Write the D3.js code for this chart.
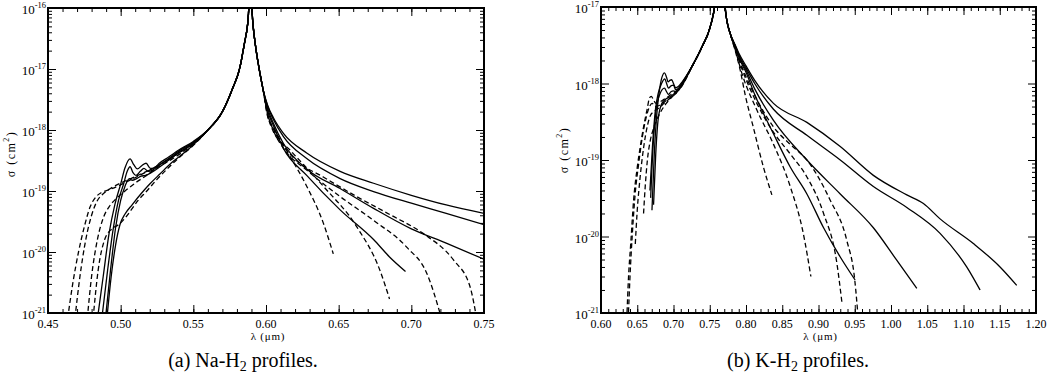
<!DOCTYPE html>
<html>
<head>
<meta charset="utf-8">
<script src="https://cdn.jsdelivr.net/npm/d3@7"></script>
<style>
  body { margin: 0; background: #fff; }
  svg { display: block; }
  text { fill: #000; font-family: "Liberation Serif", "Times New Roman", "DejaVu Serif", serif; }
</style>
</head>
<body>
<svg id="chart" width="1047" height="373"></svg>
<script>
// ---- Na-H2 profiles: [lambda (um), sigma (cm^2)] ----
const naCore = [[0.56,1.0e-18],[0.57,2.0e-18],[0.577,4.8e-18],[0.582,1.05e-17],[0.585,2.5e-17],[0.5875,5.8e-17],[0.589,1.6e-16],
  [0.5895,1.6e-16],[0.591,5.5e-17],[0.593,2.2e-17],[0.595,1.1e-17],[0.598,4.6e-18]];

const naSolidBlue = [
  [[0.484,8e-22],[0.488,4e-21],[0.492,2e-20],[0.496,6e-20],[0.500,1.3e-19],[0.503,2.4e-19],[0.5065,3.35e-19],[0.509,2.7e-19],[0.5115,2.3e-19],[0.5145,2.6e-19],[0.5175,2.85e-19],[0.5205,2.35e-19],[0.523,2.4e-19],[0.527,2.9e-19],[0.533,3.6e-19],[0.54,4.7e-19],[0.55,6.5e-19]],
  [[0.487,8e-22],[0.491,5e-21],[0.495,2.5e-20],[0.4985,7e-20],[0.502,1.3e-19],[0.5045,2.1e-19],[0.5065,2.5e-19],[0.5085,2.0e-19],[0.5105,1.8e-19],[0.5135,2.1e-19],[0.516,2.35e-19],[0.519,2.1e-19],[0.522,2.2e-19],[0.527,2.7e-19],[0.533,3.4e-19],[0.54,4.5e-19],[0.55,6.3e-19]],
  [[0.4895,8e-22],[0.493,5e-21],[0.4965,2.5e-20],[0.500,7e-20],[0.503,1.2e-19],[0.506,1.6e-19],[0.508,1.5e-19],[0.511,1.6e-19],[0.514,1.75e-19],[0.517,1.8e-19],[0.521,2.0e-19],[0.527,2.5e-19],[0.533,3.2e-19],[0.54,4.3e-19],[0.55,6.1e-19]],
  [[0.4905,8e-22],[0.4935,4e-21],[0.4965,1.3e-20],[0.4995,2.8e-20],[0.503,4.2e-20],[0.508,6e-20],[0.514,9e-20],[0.52,1.3e-19],[0.527,1.9e-19],[0.535,2.9e-19],[0.543,4.1e-19],[0.55,5.7e-19]]
];
const naSolidRed = [
  [[0.601,2.6e-18],[0.605,1.6e-18],[0.612,8.8e-19],[0.628,4.2e-19],[0.651,2.1e-19],[0.674,1.34e-19],[0.700,8.5e-20],[0.724,5.9e-20],[0.750,4.3e-20]],
  [[0.601,2.5e-18],[0.605,1.5e-18],[0.612,7.8e-19],[0.628,3.4e-19],[0.651,1.6e-19],[0.674,9.8e-20],[0.700,6.3e-20],[0.724,4.3e-20],[0.750,2.8e-20]],
  [[0.601,2.3e-18],[0.605,1.3e-18],[0.612,6.0e-19],[0.628,2.3e-19],[0.651,1.1e-19],[0.674,5.2e-20],[0.700,2.4e-20],[0.724,1.4e-20],[0.750,7.6e-21]],
  [[0.601,2.1e-18],[0.605,1.2e-18],[0.612,5.0e-19],[0.628,1.8e-19],[0.651,4.9e-20],[0.674,1.6e-20],[0.685,8.3e-21],[0.696,4.8e-21]]
];
const naDashBlue = [
  [[0.4635,8e-22],[0.467,3e-21],[0.471,1e-20],[0.475,2.6e-20],[0.479,5.5e-20],[0.483,8e-20],[0.487,9.5e-20],[0.492,1.05e-19],[0.498,1.2e-19],[0.505,1.45e-19],[0.512,1.75e-19],[0.52,2.2e-19],[0.53,3.0e-19],[0.54,4.2e-19],[0.55,6.0e-19]],
  [[0.4685,8e-22],[0.472,4e-21],[0.476,1.6e-20],[0.480,4e-20],[0.484,7e-20],[0.488,9e-20],[0.493,1.1e-19],[0.500,1.35e-19],[0.507,1.6e-19],[0.514,1.9e-19],[0.52,2.2e-19],[0.53,3.0e-19],[0.54,4.2e-19],[0.55,6.0e-19]],
  [[0.477,8e-22],[0.480,4e-21],[0.484,1.6e-20],[0.488,3.6e-20],[0.492,5.5e-20],[0.497,7.5e-20],[0.503,1.0e-19],[0.510,1.35e-19],[0.517,1.75e-19],[0.525,2.4e-19],[0.535,3.3e-19],[0.543,4.4e-19],[0.55,5.9e-19]],
  [[0.481,8e-22],[0.4845,5e-21],[0.489,1.6e-20],[0.494,2.4e-20],[0.4985,2.8e-20],[0.503,3.6e-20],[0.507,4.8e-20],[0.512,7e-20],[0.518,1.0e-19],[0.525,1.55e-19],[0.532,2.3e-19],[0.54,3.5e-19],[0.55,5.6e-19]]
];
const naDashRed = [
  [[0.601,1.9e-18],[0.605,1.05e-18],[0.612,5.5e-19],[0.620,3.3e-19],[0.6394,1.7e-19],[0.6624,8.1e-20],[0.6853,4.1e-20],[0.7083,2.0e-20],[0.729,7.4e-21],[0.7404,2.7e-21],[0.745,8e-22]],
  [[0.601,1.9e-18],[0.605,1.0e-18],[0.612,5.0e-19],[0.628,2.2e-19],[0.651,8.1e-20],[0.674,3.3e-20],[0.6968,1.2e-20],[0.7106,4.5e-21],[0.7209,8e-22]],
  [[0.601,1.8e-18],[0.605,9.5e-19],[0.6165,4.7e-19],[0.6394,1.2e-19],[0.6624,2.6e-20],[0.6784,5e-21],[0.685,1.7e-21]],
  [[0.601,1.7e-18],[0.605,1.1e-18],[0.6165,3.7e-19],[0.628,1.2e-19],[0.6394,3e-20],[0.6463,9.3e-21]]
];

// ---- K-H2 profiles ----
const kCore = [[0.7254,1.66e-18],[0.7392,3.0e-18],[0.7506,5.5e-18],[0.7566,1.0e-17],[0.760,2.0e-17],[0.763,6e-17],[0.765,2e-16],
  [0.770,2e-16],[0.7713,1.0e-17],[0.7736,6.7e-18],[0.7782,4.5e-18]];

const kSolidBlue = [
  [[0.6703,2.2e-20],[0.6735,1.2e-19],[0.677,4e-19],[0.6805,8e-19],[0.684,1.2e-18],[0.6877,1.38e-18],[0.6905,1.2e-18],[0.6925,1.05e-18],[0.695,1.1e-18],[0.6975,1.12e-18],[0.700,1.0e-18],[0.703,8.8e-19],[0.707,9.2e-19],[0.712,1.05e-18]],
  [[0.6675,4e-20],[0.671,1.5e-19],[0.675,4.5e-19],[0.679,7.5e-19],[0.6835,1.0e-18],[0.688,1.15e-18],[0.6905,1.0e-18],[0.693,8.7e-19],[0.6965,9.3e-19],[0.700,9.5e-19],[0.703,8.3e-19],[0.707,8.7e-19],[0.712,1.02e-18]],
  [[0.6685,3.2e-20],[0.672,1.6e-19],[0.676,4.5e-19],[0.681,7.2e-19],[0.6875,8.7e-19],[0.6905,7.8e-19],[0.693,7.2e-19],[0.6965,7.8e-19],[0.700,8e-19],[0.704,7.8e-19],[0.712,1.0e-18]],
  [[0.6725,2.6e-20],[0.6755,1.2e-19],[0.679,3.5e-19],[0.684,5.5e-19],[0.690,6.3e-19],[0.696,6.8e-19],[0.702,7.5e-19],[0.712,9.8e-19]]
];
const kSolidRed = [
  [[0.785,3.2e-18],[0.790,2.5e-18],[0.800,1.7e-18],[0.812,1.1e-18],[0.8379,5.5e-19],[0.884,3.1e-19],[0.930,1.5e-19],[0.9757,6.3e-20],[1.0218,3.5e-20],[1.0447,2.7e-20],[1.0677,1.7e-20],[1.1136,8.1e-21],[1.1504,4e-21],[1.1734,2.3e-21]],
  [[0.785,3.15e-18],[0.790,2.4e-18],[0.800,1.6e-18],[0.812,1.0e-18],[0.8379,4.6e-19],[0.884,2.1e-19],[0.930,1.0e-19],[0.9757,4.5e-20],[1.0218,2.4e-20],[1.0677,1.1e-20],[1.1044,4e-21],[1.1228,2e-21]],
  [[0.785,3.1e-18],[0.790,2.3e-18],[0.800,1.5e-18],[0.812,8.5e-19],[0.8379,3.3e-19],[0.884,1.0e-19],[0.930,3.6e-20],[0.9757,1.3e-20],[1.0079,4.9e-21],[1.0356,2.1e-21]],
  [[0.785,3.0e-18],[0.790,2.2e-18],[0.800,1.4e-18],[0.812,7.2e-19],[0.8379,2.2e-19],[0.861,8.1e-20],[0.884,3.6e-20],[0.907,1.3e-20],[0.930,5.4e-21],[0.9505,2.7e-21]]
];
const kDashBlue = [
  [[0.6355,8e-22],[0.638,3e-21],[0.641,8e-21],[0.645,3e-20],[0.650,8e-20],[0.6542,1.5e-19],[0.659,2.8e-19],[0.6634,4.5e-19],[0.667,6.5e-19],[0.6693,6.8e-19],[0.672,6.2e-19],[0.676,5.5e-19],[0.682,5.8e-19],[0.690,6.5e-19],[0.698,7.3e-19],[0.705,8.2e-19],[0.712,9.8e-19]],
  [[0.6375,8e-22],[0.640,3e-21],[0.643,1e-20],[0.647,3.5e-20],[0.652,9e-20],[0.657,2e-19],[0.662,3.5e-19],[0.667,5e-19],[0.6705,5.5e-19],[0.675,5e-19],[0.681,5.2e-19],[0.690,6e-19],[0.700,7e-19],[0.712,9.6e-19]],
  [[0.6473,8e-21],[0.650,2.2e-20],[0.654,6e-20],[0.659,1.5e-19],[0.664,2.8e-19],[0.668,3.8e-19],[0.673,4.3e-19],[0.679,4.7e-19],[0.687,5.5e-19],[0.696,6.5e-19],[0.704,7.5e-19],[0.712,9.5e-19]],
  [[0.6587,2e-20],[0.661,4.5e-20],[0.664,1e-19],[0.668,1.8e-19],[0.672,2.5e-19],[0.676,3.2e-19],[0.682,4.2e-19],[0.690,5.5e-19],[0.700,7e-19],[0.712,9.4e-19]]
];
const kDashRed = [
  [[0.785,2.9e-18],[0.795,1.6e-18],[0.815,6.2e-19],[0.838,2.7e-19],[0.861,1.6e-19],[0.884,1.0e-19],[0.916,3e-20],[0.939,8.9e-21],[0.950,2.7e-21],[0.955,8e-22]],
  [[0.785,2.85e-18],[0.795,1.5e-18],[0.815,5.5e-19],[0.838,2.3e-19],[0.861,1.2e-19],[0.884,6e-20],[0.907,2e-20],[0.9253,4.5e-21],[0.9322,1.4e-21]],
  [[0.785,2.8e-18],[0.795,1.3e-18],[0.815,4.5e-19],[0.838,1.6e-19],[0.861,4.5e-20],[0.879,1.1e-20],[0.8895,3e-21]],
  [[0.785,2.7e-18],[0.792,1.5e-18],[0.799,7e-19],[0.810,2.7e-19],[0.824,8.1e-20],[0.8357,3.5e-20]]
];

const panels = [
  { id: "na", xDomain: [0.45, 0.75], yDomain: [1e-21, 1e-16], left: 48, right: 484, top: 8, bottom: 313,
    xMajor: d3.range(0.45, 0.7501, 0.05), caption: ["(a) Na-H", "2", " profiles."], capX: 243, yTitleY: 154,
    core: naCore, solidBlue: naSolidBlue, solidRed: naSolidRed, dashBlue: naDashBlue, dashRed: naDashRed },
  { id: "k", xDomain: [0.60, 1.20], yDomain: [1e-21, 1e-17], left: 601, right: 1036, top: 7, bottom: 313,
    xMajor: d3.range(0.60, 1.2001, 0.05), caption: ["(b) K-H", "2", " profiles."], capX: 798, yTitleY: 150,
    core: kCore, solidBlue: kSolidBlue, solidRed: kSolidRed, dashBlue: kDashBlue, dashRed: kDashRed }
];

const svg = d3.select("#chart");

panels.forEach(p => {
  const x = d3.scaleLinear().domain(p.xDomain).range([p.left, p.right]);
  const y = d3.scaleLog().domain(p.yDomain).range([p.bottom, p.top]);
  const g = svg.append("g");

  // clip
  g.append("clipPath").attr("id", "clip-" + p.id)
    .append("rect").attr("x", p.left).attr("y", p.top)
    .attr("width", p.right - p.left).attr("height", p.bottom - p.top);

  // ticks
  const xMinor = d3.range(Math.round(p.xDomain[0] * 100), Math.round(p.xDomain[1] * 100) + 1)
    .map(v => v / 100);
  const yMajor = [];
  const yMinor = [];
  for (let e = Math.log10(p.yDomain[0]); e < Math.log10(p.yDomain[1]); e++) {
    for (let k = 2; k <= 9; k++) yMinor.push(k * Math.pow(10, e));
  }
  for (let e = Math.log10(p.yDomain[0]); e <= Math.log10(p.yDomain[1]); e++) yMajor.push(Math.pow(10, e));

  const tickAxis = (axisFn, scale, values, size, transform) => {
    const a = g.append("g").attr("transform", transform)
      .call(axisFn(scale).tickValues(values).tickSize(-size).tickFormat(""));
    a.select(".domain").remove();
    a.selectAll("line").attr("stroke", "#000").attr("stroke-width", 1);
  };
  tickAxis(d3.axisBottom, x, xMinor, 4, `translate(0,${p.bottom})`);
  tickAxis(d3.axisBottom, x, p.xMajor, 8, `translate(0,${p.bottom})`);
  tickAxis(d3.axisTop, x, xMinor, 4, `translate(0,${p.top})`);
  tickAxis(d3.axisTop, x, p.xMajor, 8, `translate(0,${p.top})`);
  tickAxis(d3.axisLeft, y, yMinor, 4, `translate(${p.left},0)`);
  tickAxis(d3.axisLeft, y, yMajor, 8, `translate(${p.left},0)`);
  tickAxis(d3.axisRight, y, yMinor, 4, `translate(${p.right},0)`);
  tickAxis(d3.axisRight, y, yMajor, 8, `translate(${p.right},0)`);

  // curves
  const line = d3.line().x(d => x(d[0])).y(d => y(d[1])).curve(d3.curveMonotoneX);
  const curves = [];
  p.solidBlue.forEach((b, i) => curves.push({ pts: b.concat(p.core, p.solidRed[i]), dash: null }));
  p.dashBlue.forEach((b, i) => curves.push({ pts: b.concat(p.core, p.dashRed[i]), dash: "5,3" }));
  g.append("g").attr("clip-path", `url(#clip-${p.id})`)
    .selectAll("path").data(curves).join("path")
    .attr("d", d => line(d.pts))
    .attr("fill", "none").attr("stroke", "#000").attr("stroke-width", 1.3)
    .attr("stroke-dasharray", d => d.dash);

  // frame
  g.append("rect").attr("x", p.left).attr("y", p.top)
    .attr("width", p.right - p.left).attr("height", p.bottom - p.top)
    .attr("fill", "none").attr("stroke", "#000").attr("stroke-width", 2);

  // x tick labels
  g.selectAll(".xl").data(p.xMajor).join("text")
    .attr("x", d => x(d)).attr("y", p.bottom + 15)
    .attr("text-anchor", "middle").style("font-size", "12px")
    .text(d => d3.format(".2f")(d));

  // y tick labels 10^n
  g.selectAll(".yl").data(yMajor).join("text")
    .attr("x", p.left - 2).attr("y", d => y(d) + 6)
    .attr("text-anchor", "end").style("font-size", "13px")
    .each(function (d) {
      const t = d3.select(this);
      t.append("tspan").text("10");
      t.append("tspan").attr("dy", -6).style("font-size", "8.5px").text(String(Math.round(Math.log10(d))));
    });

  // axis titles
  const midX = (p.left + p.right) / 2;
  g.append("text").attr("x", midX + 2).attr("y", p.bottom + 27)
    .attr("text-anchor", "middle").style("font-size", "11px")
    .attr("letter-spacing", 0.8)
    .text("λ (μm)");

  const yt = g.append("text")
    .attr("transform", `translate(${p.left - 33},${p.yTitleY}) rotate(-90)`)
    .attr("text-anchor", "middle").style("font-size", "12px")
    .attr("letter-spacing", 1.5);
  yt.append("tspan").text("σ (cm");
  yt.append("tspan").attr("dy", -6).style("font-size", "8px").text("2");
  yt.append("tspan").attr("dy", 6).text(")");

  // caption
  const cap = svg.append("text").attr("x", p.capX).attr("y", 367)
    .attr("text-anchor", "middle").style("font-size", "20px");
  cap.append("tspan").text(p.caption[0]);
  cap.append("tspan").attr("dy", 4).style("font-size", "14px").text(p.caption[1]);
  cap.append("tspan").attr("dy", -4).text(p.caption[2]);
});
</script>
</body>
</html>
